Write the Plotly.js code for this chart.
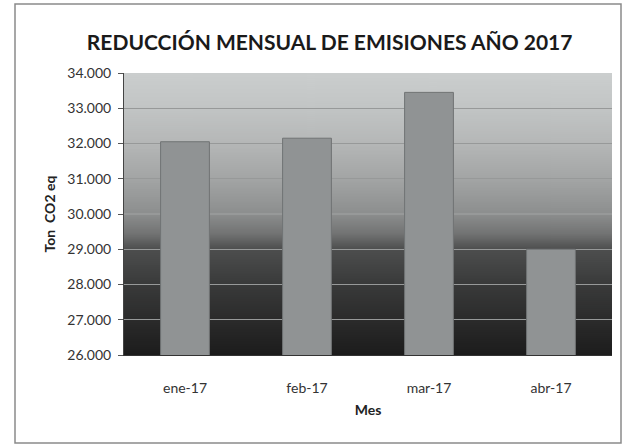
<!DOCTYPE html>
<html>
<head>
<meta charset="utf-8">
<script src="https://cdn.plot.ly/plotly-3.0.1.min.js"></script>
<style>html,body{margin:0;padding:0;background:#fff;}#chart{width:622px;height:448px;}</style>
</head>
<body>
<div id="chart"></div>
<script>
const categories = ["ene-17", "feb-17", "mar-17", "abr-17"];
const emissions = [32050, 32150, 33450, 29000];
const yTickVals = [26000, 27000, 28000, 29000, 30000, 31000, 32000, 33000, 34000];
const chartTitle = "REDUCCIÓN MENSUAL DE EMISIONES AÑO 2017";
const xTitle = "Mes";
const yTitle = "Ton  CO2 eq";

// vertical gradient for the plot-area background
function gradientURL() {
  const c = document.createElement('canvas');
  c.width = 4; c.height = 282;
  const g = c.getContext('2d');
  const gr = g.createLinearGradient(0, 0, 0, 282);
  gr.addColorStop(0.00, '#cbcece');
  gr.addColorStop(0.12, '#c2c5c5');
  gr.addColorStop(0.25, '#b5b7b7');
  gr.addColorStop(0.38, '#a2a4a4');
  gr.addColorStop(0.50, '#8c8e8e');
  gr.addColorStop(0.57, '#727373');
  gr.addColorStop(0.625, '#4d4e4e');
  gr.addColorStop(0.75, '#393a3a');
  gr.addColorStop(0.875, '#2b2b2b');
  gr.addColorStop(1.00, '#1c1c1c');
  g.fillStyle = gr;
  g.fillRect(0, 0, 4, 282);
  return c.toDataURL('image/png');
}

const L = 124, T = 73, W = 488, H = 282;
const px = v => (v - L) / W;
const py = v => (T + H - v) / H;

const trace = {
  type: 'bar',
  x: categories,
  y: emissions,
  marker: { color: '#909394', line: { color: '#707374', width: 1 } },
  hoverinfo: 'x+y'
};

const layout = {
  width: 622, height: 448,
  margin: { l: L, r: 622 - L - W, t: T, b: 448 - T - H },
  paper_bgcolor: '#ffffff',
  plot_bgcolor: 'rgba(0,0,0,0)',
  separators: ',.',
  font: { family: 'Lato, "Open Sans", sans-serif', color: '#333333', size: 13 },
  title: {
    text: chartTitle,
    font: { family: 'Lato, "Open Sans", sans-serif', size: 21, color: '#1a1a1a', weight: 'bold' },
    x: 0.53, xanchor: 'center', y: 0.905, yanchor: 'middle'
  },
  bargap: 0.6,
  showlegend: false,
  xaxis: {
    type: 'category',
    showline: true, linecolor: '#333333', linewidth: 1,
    ticks: '', showgrid: false,
    tickfont: { size: 14, color: '#333333' },
    ticklabelstandoff: 20,
    title: { text: xTitle, font: { size: 14, color: '#222222', weight: 'bold' }, standoff: 10 }
  },
  yaxis: {
    range: [26000, 34000],
    tickvals: yTickVals,
    tickformat: ',d',
    showline: true, linecolor: '#444444', linewidth: 1,
    ticks: 'outside', ticklen: 5, tickcolor: '#555555',
    showgrid: true, gridcolor: '#979999', gridwidth: 1.2,
    zeroline: false,
    tickfont: { size: 14, color: '#333333' },
    ticklabelstandoff: 4,
    title: { text: yTitle, font: { size: 14, color: '#222222', weight: 'bold' }, standoff: 8 }
  },
  images: [{
    source: gradientURL(),
    xref: 'paper', yref: 'paper',
    x: 0, y: 1, sizex: 1, sizey: 1,
    xanchor: 'left', yanchor: 'top',
    sizing: 'stretch', layer: 'below'
  }],
  shapes: [{
    type: 'rect', xref: 'paper', yref: 'paper',
    x0: px(15), x1: px(621), y0: py(443), y1: py(4),
    line: { color: '#8a8a8a', width: 1.5 },
    fillcolor: 'rgba(0,0,0,0)', layer: 'below'
  }]
};

Plotly.newPlot('chart', [trace], layout, { displayModeBar: false, staticPlot: true });
</script>
</body>
</html>
